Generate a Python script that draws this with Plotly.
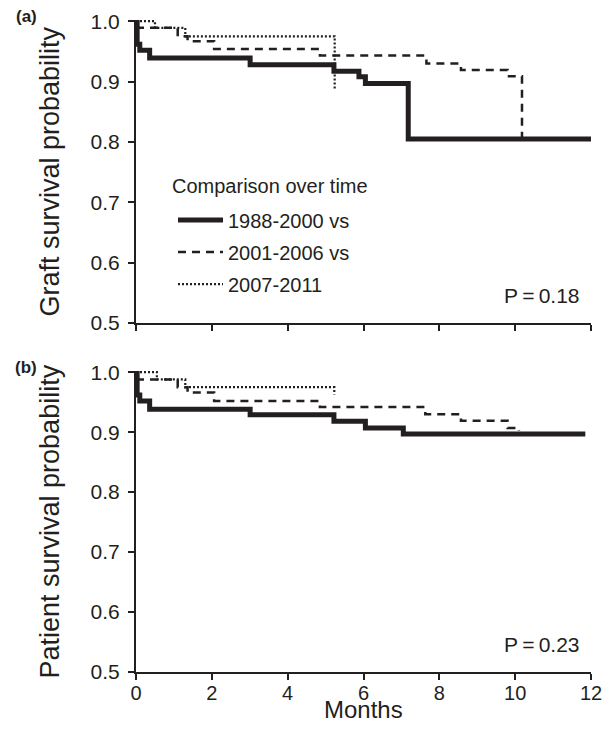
import plotly.graph_objects as go

# ---- data ----
series_names = ["1988-2000 vs", "2001-2006 vs", "2007-2011"]
legend_title = "Comparison over time"

# (a) Graft survival
graft_1988_t = [0, 0.03, 0.10, 0.36, 3.01, 5.22, 5.88, 6.05, 7.18, 12.0]
graft_1988_s = [1.0, 0.962, 0.952, 0.939, 0.928, 0.917, 0.908, 0.897, 0.805, 0.805]
graft_2001_t = [0, 1.10, 1.36, 2.06, 4.85, 7.66, 8.57, 9.80, 10.18]
graft_2001_s = [0.989, 0.975, 0.967, 0.954, 0.943, 0.930, 0.919, 0.909, 0.805]
graft_2007_t = [0, 0.50, 1.30, 5.24]
graft_2007_s = [1.0, 0.989, 0.975, 0.887]

# (b) Patient survival
pat_1988_t = [0, 0.03, 0.10, 0.36, 3.01, 5.22, 6.05, 7.05, 11.85]
pat_1988_s = [1.0, 0.962, 0.952, 0.938, 0.929, 0.918, 0.907, 0.897, 0.897]
pat_2001_t = [0, 1.10, 1.36, 2.06, 4.85, 7.63, 8.57, 9.80, 10.10]
pat_2001_s = [0.988, 0.975, 0.966, 0.952, 0.942, 0.930, 0.919, 0.907, 0.902]
pat_2007_t = [0, 0.55, 1.30, 5.23]
pat_2007_s = [1.0, 0.988, 0.975, 0.963]

p_values = ["P\u2009=\u20090.18", "P\u2009=\u20090.23"]
x_ticks = [0, 2, 4, 6, 8, 10, 12]
y_ticks = [0.5, 0.6, 0.7, 0.8, 0.9, 1.0]

FONT = "Liberation Sans, Arial, sans-serif"
INK = "#231f20"
styles = [dict(color=INK, width=5, dash="solid"),
          dict(color=INK, width=2.5, dash="8px,6px"),
          dict(color=INK, width=2.2, dash="2px,2px")]

fig = go.Figure()
panels = [
    ("x", "y", [(graft_1988_t, graft_1988_s), (graft_2001_t, graft_2001_s), (graft_2007_t, graft_2007_s)], True),
    ("x2", "y2", [(pat_1988_t, pat_1988_s), (pat_2001_t, pat_2001_s), (pat_2007_t, pat_2007_s)], False),
]
for xa, ya, data, show in panels:
    for i, (t, s) in enumerate(data):
        fig.add_trace(go.Scatter(
            x=t, y=s, mode="lines", line=dict(shape="hv", **styles[i]),
            name=series_names[i], legendgroup=f"g{i}", showlegend=show,
            xaxis=xa, yaxis=ya, hoverinfo="skip"))

# page body has an 8px margin: figure is drawn 8px in from the window edge
W, H = 595, 718
ml, mr, mt, mb = 128, 12, 12, 54
pw = W - ml - mr
ph = H - mt - mb
top_dom = [(664 - 315) / ph, 1.0]
bot_dom = [0.0, (664 - 363) / ph]

axis_common = dict(showline=True, linecolor=INK, linewidth=2, ticks="outside",
                   ticklen=6, tickwidth=2, tickcolor=INK, showgrid=False,
                   zeroline=False, automargin=False)

fig.update_layout(
    width=W, height=H, margin=dict(l=ml, r=mr, t=mt, b=mb, autoexpand=False),
    plot_bgcolor="white", paper_bgcolor="white",
    font=dict(family=FONT, color=INK),
    xaxis=dict(domain=[0, 1], anchor="y", range=[0, 12], tickvals=x_ticks,
               showticklabels=False, **axis_common),
    yaxis=dict(domain=top_dom, anchor="x", range=[0.5, 1.002], tickvals=y_ticks,
               tickformat=".1f", ticklabelstandoff=4,
               tickfont=dict(family=FONT, size=21, color=INK), **axis_common),
    xaxis2=dict(domain=[0, 1], anchor="y2", range=[0, 12], tickvals=x_ticks,
                ticklabelstandoff=-4, tickfont=dict(family=FONT, size=20, color=INK),
                **axis_common),
    yaxis2=dict(domain=bot_dom, anchor="x2", range=[0.5, 1.002], tickvals=y_ticks,
                tickformat=".1f", ticklabelstandoff=4,
                tickfont=dict(family=FONT, size=21, color=INK), **axis_common),
    legend=dict(x=37 / pw, y=0.723, xanchor="left", yanchor="top",
                font=dict(size=20, family=FONT, color=INK), itemwidth=45,
                traceorder="grouped", tracegroupgap=3, bgcolor="rgba(0,0,0,0)"),
    showlegend=True,
)

ann = []
ann.append(dict(text=legend_title, xref="paper", yref="paper", x=34 / pw, y=(664 - 178) / ph,
                xanchor="left", yanchor="middle", showarrow=False,
                font=dict(size=20, family=FONT)))
ann.append(dict(text="<b>(a)</b>", xref="paper", yref="paper", x=0, xshift=-110, y=1.0,
                yshift=4, xanchor="center", yanchor="middle", showarrow=False,
                font=dict(size=17, family=FONT)))
ann.append(dict(text="<b>(b)</b>", xref="paper", yref="paper", x=0, xshift=-110, y=bot_dom[1],
                yshift=4, xanchor="center", yanchor="middle", showarrow=False,
                font=dict(size=17, family=FONT)))
ann.append(dict(text="Graft survival probability", xref="paper", yref="paper", x=0, xshift=-87,
                y=sum(top_dom) / 2, textangle=-90, xanchor="center", yanchor="middle",
                showarrow=False, font=dict(size=27, family=FONT)))
ann.append(dict(text="Patient survival probability", xref="paper", yref="paper", x=0, xshift=-87,
                y=sum(bot_dom) / 2, textangle=-90, xanchor="center", yanchor="middle",
                showarrow=False, font=dict(size=27, family=FONT)))
ann.append(dict(text="Months", xref="paper", yref="paper", x=0.5, y=0, yshift=-53,
                xanchor="center", yanchor="bottom", showarrow=False,
                font=dict(size=24, family=FONT)))
ann.append(dict(text=p_values[0], xref="x", yref="y", x=11.75, y=0.546, xanchor="right",
                yanchor="middle", showarrow=False, font=dict(size=21, family=FONT)))
ann.append(dict(text=p_values[1], xref="x2", yref="y2", x=11.75, y=0.546, xanchor="right",
                yanchor="middle", showarrow=False, font=dict(size=21, family=FONT)))
fig.update_layout(annotations=ann)

fig.write_html("out.html")
